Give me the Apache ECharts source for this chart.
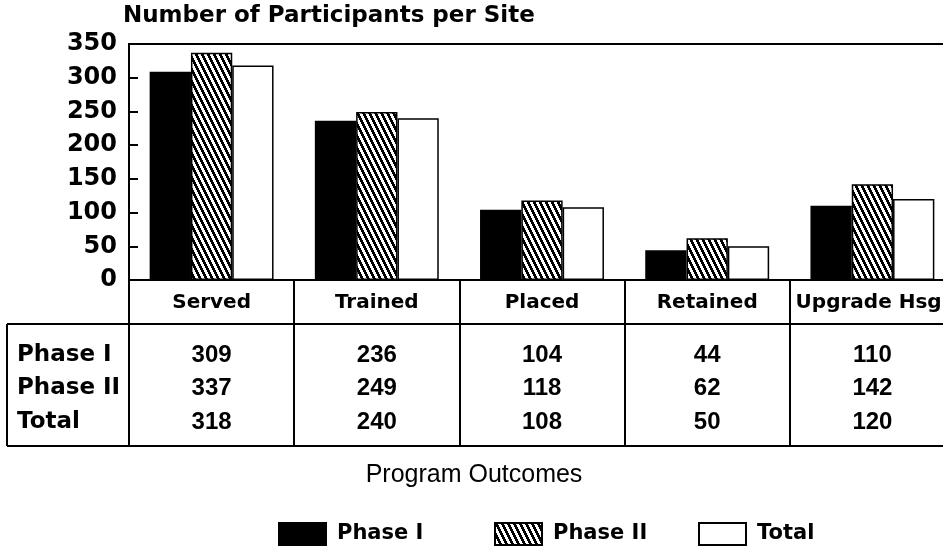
<!DOCTYPE html>
<html>
<head>
<meta charset="utf-8">
<script src="https://cdn.jsdelivr.net/npm/echarts@6/dist/echarts.min.js"></script>
<style>
  html, body { margin: 0; padding: 0; background: #fff; }
  #chart { width: 943px; height: 556px; }
</style>
</head>
<body>
<div id="chart"></div>
<script>
const categories = ['Served', 'Trained', 'Placed', 'Retained', 'Upgrade Hsg.']
const phase1 = [309, 236, 104, 44, 110]
const phase2 = [337, 249, 118, 62, 142]
const total = [318, 240, 108, 50, 120]
const seriesNames = ['Phase I', 'Phase II', 'Total']

// hatch pattern: steep "\" stripes
function hatch() {
  const w = 6, h = 12
  const c = document.createElement('canvas')
  c.width = w
  c.height = h
  const ctx = c.getContext('2d')
  ctx.fillStyle = '#fff'
  ctx.fillRect(0, 0, w, h)
  ctx.fillStyle = '#000'
  for (let y = 0; y < h; y++) {
    const x0 = Math.floor(y / 2)
    for (let k = 0; k < 3; k++) {
      ctx.fillRect((x0 + k) % w, y, 1, 1)
    }
  }
  return {image: c, repeat: 'repeat'}
}

const boldWide = 'DejaVu Sans'
const chart = echarts.init(document.getElementById('chart'))

// one legend per entry so the spacing can follow the picture
const legendLefts = [278, 494, 698]
const legendText = {fontFamily: boldWide, fontWeight: 'bold', fontSize: 21, color: '#000', padding: [0, 0, 0, 6]}
const legends = seriesNames.map((name, i) => ({
  left: legendLefts[i],
  top: 522,
  padding: 0,
  itemWidth: 47,
  itemHeight: 22,
  icon: 'rect',
  data: [name],
  selectedMode: false,
  textStyle: legendText
}))

const option = {
  animation: false,
  backgroundColor: '#fff',
  title: {
    text: 'Number of Participants per Site',
    left: 123,
    top: 5,
    padding: 0,
    textStyle: {fontFamily: boldWide, fontWeight: 'bold', fontSize: 23, color: '#000'}
  },
  grid: {
    left: 129,
    top: 44,
    width: 826,
    bottom: 276,
    show: true,
    borderColor: '#000',
    borderWidth: 2,
    containLabel: false,
    outerBoundsMode: 'none'
  },
  legend: legends,
  xAxis: {
    type: 'category',
    data: categories,
    axisLine: {lineStyle: {color: '#000', width: 2}},
    axisTick: {show: true, interval: 0, length: 165, lineStyle: {color: '#000', width: 2}},
    axisLabel: {
      interval: 0,
      margin: 13,
      fontFamily: boldWide,
      fontWeight: 'bold',
      fontSize: 20,
      color: '#000'
    }
  },
  yAxis: {
    type: 'value',
    min: 0,
    max: 350,
    interval: 50,
    axisLine: {show: true, lineStyle: {color: '#000', width: 2}},
    axisTick: {show: true, inside: true, length: 9, lineStyle: {color: '#000', width: 2}},
    splitLine: {show: false},
    axisLabel: {
      margin: 12,
      fontFamily: boldWide,
      fontWeight: 'bold',
      fontSize: 24,
      color: '#000'
    }
  },
  series: [
    {
      name: seriesNames[0], type: 'bar', data: phase1,
      barGap: 0, barCategoryGap: '25%',
      itemStyle: {color: '#000', borderColor: '#000', borderWidth: 1.5}
    },
    {
      name: seriesNames[1], type: 'bar', data: phase2,
      barGap: 0, barCategoryGap: '25%',
      itemStyle: {color: hatch(), borderColor: '#000', borderWidth: 1.5}
    },
    {
      name: seriesNames[2], type: 'bar', data: total,
      barGap: 0, barCategoryGap: '25%',
      itemStyle: {color: '#fff', borderColor: '#000', borderWidth: 1.5}
    }
  ]
}
chart.setOption(option)

// data table under the axis
const rows = [phase1, phase2, total]
const rowY = [355, 388, 422]
const tableTop = 324
const tableBottom = 446
const graphic = [
  {type: 'line', shape: {x1: 7, y1: tableTop, x2: 943, y2: tableTop}, style: {stroke: '#000', lineWidth: 2}},
  {type: 'line', shape: {x1: 7, y1: tableBottom, x2: 943, y2: tableBottom}, style: {stroke: '#000', lineWidth: 2}},
  {type: 'line', shape: {x1: 7, y1: tableTop, x2: 7, y2: tableBottom}, style: {stroke: '#000', lineWidth: 2}}
]
rows.forEach((vals, r) => {
  graphic.push({
    type: 'text', x: 17, y: rowY[r],
    style: {text: seriesNames[r], font: 'bold 23px "DejaVu Sans"', fill: '#000', verticalAlign: 'middle'}
  })
  vals.forEach((v, i) => {
    const x = chart.convertToPixel({xAxisIndex: 0}, categories[i])
    graphic.push({
      type: 'text', x: x, y: rowY[r],
      style: {text: String(v), font: 'bold 24px "Liberation Sans"', fill: '#000', align: 'center', verticalAlign: 'middle'}
    })
  })
})
graphic.push({
  type: 'text', x: 474, y: 475,
  style: {text: 'Program Outcomes', font: '25px "Liberation Sans"', fill: '#000', align: 'center', verticalAlign: 'middle'}
})
chart.setOption({graphic: graphic})
</script>
</body>
</html>
